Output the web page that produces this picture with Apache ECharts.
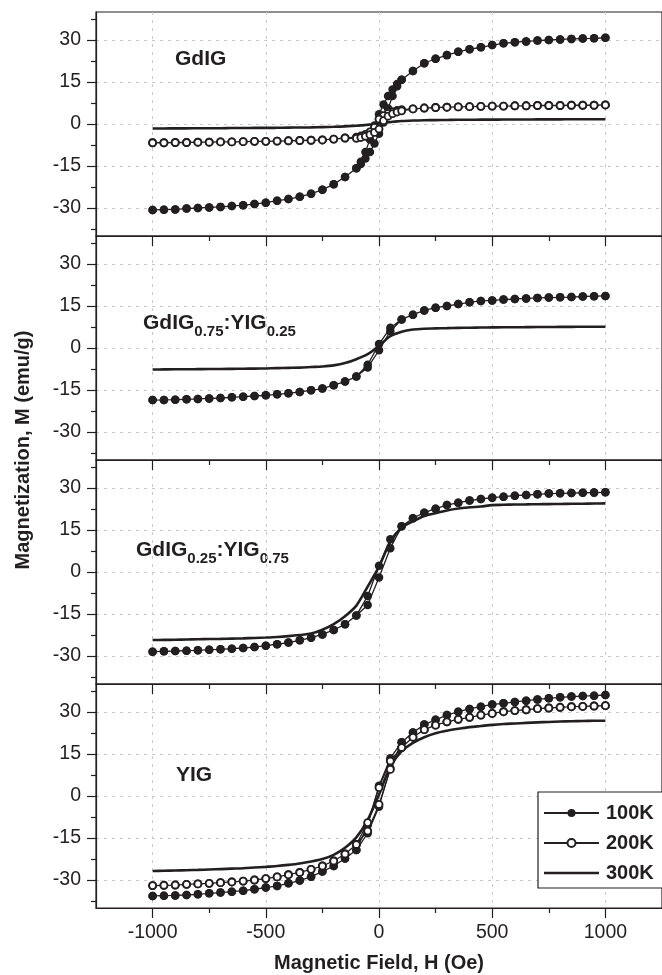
<html>
<head>
<meta charset="UTF-8">
<script src="https://cdn.jsdelivr.net/npm/echarts@6/dist/echarts.min.js"></script>
<style>
  body { margin: 0; background: #fff; }
</style>
</head>
<body>
<div id="hyst" style="width: 662px; height: 975px;"></div>
<script>
// field values (Oe); GdIG has denser points round zero
var H_GDIG = [-1000, -950, -900, -850, -800, -750, -700, -650, -600, -550, -500, -450, -400, -350, -300, -250, -200, -150,
  -100, -80, -60, -40, -20, 0, 20, 40, 60, 80, 100,
  150, 200, 250, 300, 350, 400, 450, 500, 550, 600, 650, 700, 750, 800, 850, 900, 950, 1000];
var H = [-1000, -950, -900, -850, -800, -750, -700, -650, -600, -550, -500, -450, -400, -350, -300, -250, -200, -150, -100,
  -50, 0, 50,
  100, 150, 200, 250, 300, 350, 400, 450, 500, 550, 600, 650, 700, 750, 800, 850, 900, 950, 1000];

var X_MAJOR = [-1000, -500, 0, 500, 1000];
var X_MINOR = [-750, -250, 250, 750];
var Y_MAJOR = [-30, -15, 0, 15, 30];
var Y_MINOR = [-37.5, -22.5, -7.5, 7.5, 22.5, 37.5];

// GdIG  (down = branch swept from +1000, up = branch swept from -1000)
var gdig100Down = [-30.7, -30.6, -30.5, -30.2, -30.0, -29.8, -29.6, -29.3, -29.0, -28.6, -28.1, -27.4, -26.8, -26.0, -24.9, -23.5, -21.5, -18.9,
  -15.8, -13.5, -10.0, -5.5, -0.5, 3.5, 7.0, 10.0, 12.3, 14.3, 15.8,
  18.9, 21.7, 23.3, 24.6, 25.8, 26.7, 27.4, 28.2, 28.8, 29.2, 29.5, 29.8, 30.0, 30.2, 30.4, 30.5, 30.6, 30.8];
var gdig100Up = [-30.7, -30.6, -30.5, -30.2, -30.0, -29.8, -29.6, -29.3, -29.0, -28.6, -28.1, -27.4, -26.8, -26.0, -24.9, -23.5, -21.5, -18.9,
  -15.8, -14.3, -12.3, -10.0, -7.0, -3.5, 0.5, 5.5, 10.0, 13.5, 15.8,
  18.9, 21.7, 23.3, 24.6, 25.8, 26.7, 27.4, 28.2, 28.8, 29.2, 29.5, 29.8, 30.0, 30.2, 30.4, 30.5, 30.6, 30.8];
var gdig200Down = [-6.7, -6.7, -6.6, -6.6, -6.5, -6.5, -6.4, -6.4, -6.3, -6.2, -6.2, -6.1, -6.0, -5.9, -5.8, -5.7, -5.4, -5.0,
  -4.7, -4.3, -3.7, -2.8, -1.2, 1.8, 3.0, 3.8, 4.4, 4.8, 5.1,
  5.4, 5.7, 5.9, 6.0, 6.1, 6.2, 6.3, 6.4, 6.4, 6.5, 6.5, 6.6, 6.6, 6.6, 6.7, 6.7, 6.7, 6.8];
var gdig200Up = [-6.7, -6.7, -6.6, -6.6, -6.5, -6.5, -6.4, -6.4, -6.3, -6.2, -6.2, -6.1, -6.0, -5.9, -5.8, -5.7, -5.4, -5.0,
  -5.1, -4.8, -4.4, -3.8, -3.0, -1.8, 1.2, 2.8, 3.7, 4.3, 4.7,
  5.4, 5.7, 5.9, 6.0, 6.1, 6.2, 6.3, 6.4, 6.4, 6.5, 6.5, 6.6, 6.6, 6.6, 6.7, 6.7, 6.7, 6.8];
var gdig300 = [-1.6, -1.6, -1.55, -1.55, -1.5, -1.5, -1.5, -1.45, -1.45, -1.4, -1.4, -1.35, -1.3, -1.25, -1.2, -1.1, -1.0, -0.85,
  -0.6, -0.5, -0.35, -0.2, 0.0, 0.2, 0.4, 0.6, 0.8, 0.95, 1.05,
  1.25, 1.35, 1.4, 1.45, 1.5, 1.5, 1.55, 1.55, 1.6, 1.6, 1.6, 1.65, 1.65, 1.65, 1.7, 1.7, 1.7, 1.7];

// GdIG0.75:YIG0.25
var mix75_100Down = [-18.6, -18.55, -18.45, -18.33, -18.2, -18.0, -17.86, -17.62, -17.38, -17.14, -16.9, -16.55, -16.2, -15.7, -15.1, -14.5, -13.3, -12.0, -10.2,
  -6.0, 1.4, 7.2,
  10.2, 11.9, 13.4, 14.4, 15.0, 15.7, 16.3, 16.8, 17.0, 17.3, 17.5, 17.7, 17.9, 18.0, 18.1, 18.2, 18.4, 18.5, 18.6];
var mix75_100Up = [-18.6, -18.55, -18.45, -18.33, -18.2, -18.0, -17.86, -17.62, -17.38, -17.14, -16.9, -16.55, -16.2, -15.7, -15.1, -14.5, -13.3, -12.0, -10.2,
  -7.0, -0.8, 6.0,
  10.2, 11.9, 13.4, 14.4, 15.0, 15.7, 16.3, 16.8, 17.0, 17.3, 17.5, 17.7, 17.9, 18.0, 18.1, 18.2, 18.4, 18.5, 18.6];
var mix75_300 = [-7.7, -7.65, -7.6, -7.6, -7.55, -7.5, -7.5, -7.45, -7.4, -7.35, -7.3, -7.2, -7.1, -7.0, -6.8, -6.6, -6.2, -5.4, -4.0,
  -2.2, 0.8, 4.2,
  5.8, 6.6, 6.9, 7.0, 7.1, 7.2, 7.25, 7.3, 7.35, 7.4, 7.4, 7.45, 7.5, 7.5, 7.55, 7.55, 7.6, 7.6, 7.6];

// GdIG0.25:YIG0.75
var mix25_100Down = [-28.45, -28.33, -28.21, -28.1, -27.98, -27.74, -27.62, -27.38, -27.14, -26.8, -26.3, -25.8, -25.2, -24.4, -23.45, -22.3, -20.7, -18.7, -15.5,
  -8.6, 2.2, 11.7,
  16.3, 19.2, 21.2, 22.6, 23.9, 24.76, 25.5, 26.07, 26.55, 26.9, 27.26, 27.5, 27.74, 28.0, 28.1, 28.2, 28.3, 28.35, 28.45];
var mix25_100Up = [-28.45, -28.33, -28.21, -28.1, -27.98, -27.74, -27.62, -27.38, -27.14, -26.8, -26.3, -25.8, -25.2, -24.4, -23.45, -22.3, -20.7, -18.7, -15.5,
  -11.8, -2.0, 8.5,
  16.3, 19.2, 21.2, 22.6, 23.9, 24.76, 25.5, 26.07, 26.55, 26.9, 27.26, 27.5, 27.74, 28.0, 28.1, 28.2, 28.3, 28.35, 28.45];
var mix25_300 = [-24.3, -24.25, -24.2, -24.1, -24.0, -23.95, -23.9, -23.8, -23.7, -23.55, -23.4, -23.2, -22.9, -22.5, -22.0, -20.6, -18.6, -15.8, -12.0,
  -5.2, 1.9, 10.8,
  15.8, 18.1, 20.0, 21.0, 22.0, 22.7, 23.1, 23.4, 23.9, 24.0, 24.1, 24.15, 24.2, 24.25, 24.3, 24.35, 24.4, 24.45, 24.5];

// YIG
var yig100Down = [-35.7, -35.6, -35.5, -35.36, -35.1, -34.76, -34.5, -34.17, -33.8, -33.3, -32.7, -32.1, -31.2, -30.2, -28.8, -27.0, -25.0, -22.3, -19.3,
  -10.4, 3.7, 13.5,
  19.2, 22.7, 25.5, 27.2, 28.9, 30.1, 31.1, 31.9, 32.7, 33.1, 33.6, 34.05, 34.5, 34.88, 35.24, 35.5, 35.7, 35.83, 36.07];
var yig100Up = [-35.7, -35.6, -35.5, -35.36, -35.1, -34.76, -34.5, -34.17, -33.8, -33.3, -32.7, -32.1, -31.2, -30.2, -28.8, -27.0, -25.0, -22.3, -19.3,
  -13.3, -3.8, 10.0,
  19.2, 22.7, 25.5, 27.2, 28.9, 30.1, 31.1, 31.9, 32.7, 33.1, 33.6, 34.05, 34.5, 34.88, 35.24, 35.5, 35.7, 35.83, 36.07];
var yig200Down = [-32.0, -31.9, -31.8, -31.55, -31.4, -31.2, -30.95, -30.7, -30.4, -30.0, -29.5, -28.9, -28.1, -27.3, -26.2, -25.0, -23.2, -20.7, -17.3,
  -9.5, 3.0, 12.5,
  17.3, 21.0, 23.7, 25.3, 26.5, 27.4, 28.1, 28.9, 29.5, 30.1, 30.5, 30.8, 31.2, 31.43, 31.67, 31.9, 32.0, 32.14, 32.26];
var yig200Up = [-32.0, -31.9, -31.8, -31.55, -31.4, -31.2, -30.95, -30.7, -30.4, -30.0, -29.5, -28.9, -28.1, -27.3, -26.2, -25.0, -23.2, -20.7, -17.3,
  -12.5, -3.0, 9.5,
  17.3, 21.0, 23.7, 25.3, 26.5, 27.4, 28.1, 28.9, 29.5, 30.1, 30.5, 30.8, 31.2, 31.43, 31.67, 31.9, 32.0, 32.14, 32.26];
var yig300 = [-26.8, -26.7, -26.6, -26.5, -26.4, -26.25, -26.1, -25.95, -25.8, -25.55, -25.3, -25.0, -24.6, -24.1, -23.4, -22.5, -21.0, -18.5, -14.8,
  -8.5, 0.5, 10.5,
  16.0, 19.0, 21.0, 22.4, 23.3, 24.0, 24.6, 25.0, 25.4, 25.7, 25.9, 26.1, 26.3, 26.45, 26.6, 26.7, 26.8, 26.85, 26.9];

var INK = '#231f20';
var FONT = 'Liberation Sans, Arial, Helvetica, sans-serif';
var GRID_TOPS = [12, 236, 460, 684];
var PANEL_H = 224;

// whole loop: sweep down from +1000 then back up from -1000
function loop(hs, down, up) {
  var pts = [];
  for (var i = hs.length - 1; i >= 0; i--) pts.push([hs[i], down[i]]);
  for (var j = 0; j < hs.length; j++) pts.push([hs[j], up[j]]);
  return pts;
}
function pairs(hs, m) {
  return hs.map(function(h, i) { return [h, m[i]]; });
}

function filled(g, data) {
  return {
    name: '100K', type: 'line', xAxisIndex: g, yAxisIndex: g, data: data,
    symbol: 'circle', symbolSize: 8.5, showAllSymbol: true,
    itemStyle: { color: INK },
    lineStyle: { color: INK, width: 1.3 },
    emphasis: { disabled: true }, z: 2
  };
}
function hollow(g, data) {
  return {
    name: '200K', type: 'line', xAxisIndex: g, yAxisIndex: g, data: data,
    symbol: 'circle', symbolSize: 7, showAllSymbol: true,
    itemStyle: { color: '#fff', borderColor: INK, borderWidth: 1.9 },
    lineStyle: { color: INK, width: 1.3 },
    emphasis: { disabled: true }, z: 3
  };
}
function solid(g, data) {
  return {
    name: '300K', type: 'line', xAxisIndex: g, yAxisIndex: g, data: data,
    symbol: 'none', smooth: 0.3,
    itemStyle: { color: INK },
    lineStyle: { color: INK, width: 2.6 },
    emphasis: { disabled: true }, z: 2
  };
}

var grids = [], xAxes = [], yAxes = [];
for (var k = 0; k < 8; k++) {
  var p = k % 4;
  grids.push({ left: 96, width: 575, top: GRID_TOPS[p], height: PANEL_H,
    show: k < 4, borderColor: INK, borderWidth: 1.2, backgroundColor: 'transparent' });
}
for (var i = 0; i < 4; i++) {
  xAxes.push({
    gridIndex: i, type: 'value', min: -1250, max: 1250, position: 'bottom',
    axisLine: { show: true, onZero: false, lineStyle: { color: INK, width: 1.2 } },
    axisTick: { show: true, inside: false, length: 10, customValues: X_MAJOR, lineStyle: { color: INK, width: 1.2 } },
    axisLabel: { show: i === 3, customValues: X_MAJOR, margin: 15, fontSize: 19.5, color: INK, fontFamily: FONT,
      formatter: function(v) { return String(v); } },
    splitLine: { show: true, lineStyle: { color: '#c8c8c8', width: 1, type: [3, 5] } },
    name: i === 3 ? 'Magnetic Field, H (Oe)' : '',
    nameLocation: 'middle', nameGap: 45,
    nameTextStyle: { fontSize: 20, fontWeight: 'bold', color: INK, fontFamily: FONT }
  });
  yAxes.push({
    gridIndex: i, type: 'value', min: -40, max: 40, position: 'left',
    axisLine: { show: true, onZero: false, lineStyle: { color: INK, width: 1.2 } },
    axisTick: { show: true, inside: false, length: 9, customValues: Y_MAJOR, lineStyle: { color: INK, width: 1.2 } },
    axisLabel: { show: true, customValues: Y_MAJOR, margin: 15, fontSize: 19.5, color: INK, fontFamily: FONT },
    splitLine: { show: true, lineStyle: { color: '#c8c8c8', width: 1, type: [3, 5] } }
  });
}
// minor ticks sit on twin grids over the same panels
for (var m = 4; m < 8; m++) {
  xAxes.push({
    gridIndex: m, type: 'value', min: -1250, max: 1250, position: 'bottom',
    axisLine: { show: false, onZero: false },
    axisTick: { show: true, inside: false, length: 5, customValues: X_MINOR, lineStyle: { color: INK, width: 1.2 } },
    axisLabel: { show: false }, splitLine: { show: false }
  });
  yAxes.push({
    gridIndex: m, type: 'value', min: -40, max: 40, position: 'left',
    axisLine: { show: false, onZero: false },
    axisTick: { show: true, inside: false, length: 5, customValues: Y_MINOR, lineStyle: { color: INK, width: 1.2 } },
    axisLabel: { show: false }, splitLine: { show: false }
  });
}

var series = [
  filled(0, loop(H_GDIG, gdig100Down, gdig100Up)),
  hollow(0, loop(H_GDIG, gdig200Down, gdig200Up)),
  solid(0, pairs(H_GDIG, gdig300)),
  filled(1, loop(H, mix75_100Down, mix75_100Up)),
  solid(1, pairs(H, mix75_300)),
  filled(2, loop(H, mix25_100Down, mix25_100Up)),
  solid(2, pairs(H, mix25_300)),
  filled(3, loop(H, yig100Down, yig100Up)),
  hollow(3, loop(H, yig200Down, yig200Up)),
  solid(3, pairs(H, yig300))
];

var richSub = {
  b: { fontSize: 21, fontWeight: 'bold', fontFamily: FONT, fill: INK, lineHeight: 24, verticalAlign: 'top' },
  s: { fontSize: 15, fontWeight: 'bold', fontFamily: FONT, fill: INK, lineHeight: 16, verticalAlign: 'top', padding: [11, 0, 0, 0] }
};

var hystChart = echarts.init(document.getElementById('hyst'), null, { renderer: 'canvas' });
hystChart.setOption({
  animation: false,
  backgroundColor: '#fff',
  grid: grids,
  xAxis: xAxes,
  yAxis: yAxes,
  legend: {
    data: ['100K', '200K', { name: '300K', icon: 'path://M0,0L55,0L55,2.6L0,2.6Z' }],
    orient: 'vertical', left: 538, top: 792,
    itemWidth: 55, itemHeight: 10, itemGap: 8,
    padding: [10, 14, 4, 5],
    backgroundColor: '#fff', borderColor: INK, borderWidth: 1.2, borderRadius: 0,
    selectedMode: false,
    textStyle: { fontSize: 20, fontWeight: 'bold', color: INK, fontFamily: FONT, lineHeight: 22, padding: [0, 0, 0, 2] }
  },
  graphic: [
    { type: 'text', x: 23, y: 450, rotation: Math.PI / 2, silent: true,
      style: { text: 'Magnetization, M (emu/g)', fill: INK, font: 'bold 20px ' + FONT, align: 'center', verticalAlign: 'middle' } },
    { type: 'text', x: 175, y: 59, silent: true,
      style: { text: 'GdIG', fill: INK, font: 'bold 21px ' + FONT, align: 'left', verticalAlign: 'middle' } },
    { type: 'text', x: 143, y: 325, silent: true,
      style: { text: '{b|GdIG}{s|0.75}{b|:YIG}{s|0.25}', rich: richSub, align: 'left', verticalAlign: 'middle' } },
    { type: 'text', x: 136, y: 552, silent: true,
      style: { text: '{b|GdIG}{s|0.25}{b|:YIG}{s|0.75}', rich: richSub, align: 'left', verticalAlign: 'middle' } },
    { type: 'text', x: 176, y: 775, silent: true,
      style: { text: 'YIG', fill: INK, font: 'bold 21px ' + FONT, align: 'left', verticalAlign: 'middle' } }
  ],
  series: series
});
</script>
</body>
</html>
